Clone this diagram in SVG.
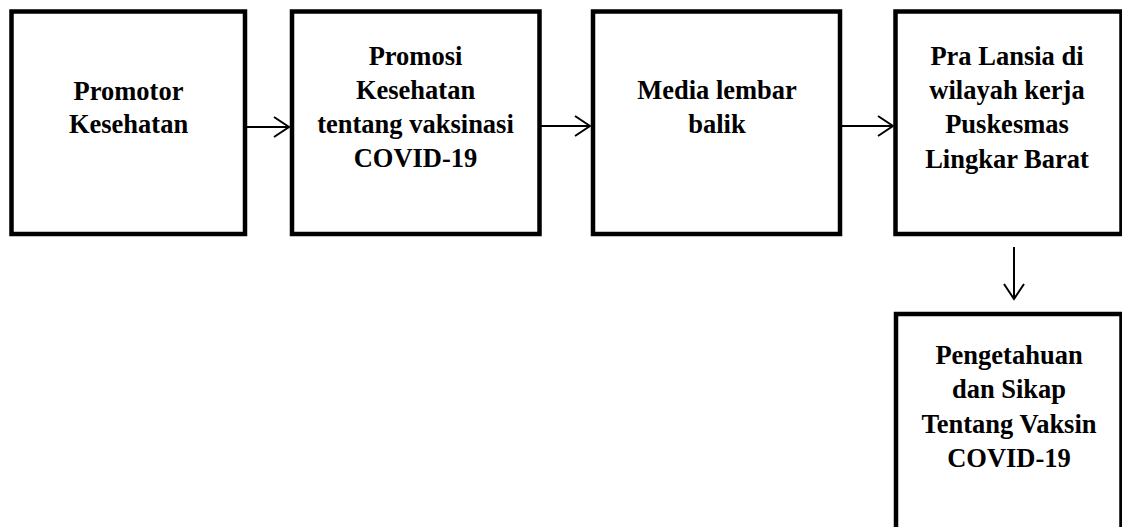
<svg xmlns="http://www.w3.org/2000/svg" width="1122" height="527" viewBox="0 0 1122 527">
<style>
.box{fill:#fff;stroke:#000;stroke-width:4.5;}
.t{font-family:"Liberation Serif","Times New Roman",serif;font-weight:bold;font-size:26.5px;fill:#000;text-anchor:middle;}
.c{stroke:#000;stroke-width:2;fill:none;}
</style>
<defs>
<marker id="ah" markerUnits="userSpaceOnUse" markerWidth="40" markerHeight="40" refX="0" refY="0" viewBox="-20 -20 40 40" orient="auto" overflow="visible">
<path d="M-15,-10 L0,0 L-15,10" fill="none" stroke="#000" stroke-width="2"/>
</marker>
</defs>
<rect width="1122" height="527" fill="#fff"/>
<g id="connectors">
<line class="c" x1="247" y1="127" x2="289" y2="127" marker-end="url(#ah)"/>
<line class="c" x1="541" y1="126" x2="590" y2="126" marker-end="url(#ah)"/>
<line class="c" x1="842" y1="126" x2="893" y2="126" marker-end="url(#ah)"/>
<line class="c" x1="1014" y1="247" x2="1014" y2="299" marker-end="url(#ah)"/>
</g>
<g id="n1">
<rect class="box" x="11.5" y="11.5" width="233.5" height="222.5"/>
<text class="t" x="128.5" y="99.5">Promotor</text>
<text class="t" x="128.5" y="133">Kesehatan</text>
</g>
<g id="n2">
<rect class="box" x="292" y="11.5" width="247.5" height="222.5"/>
<text class="t" x="415.5" y="64.5">Promosi</text>
<text class="t" x="415.5" y="98.5">Kesehatan</text>
<text class="t" x="415.5" y="133">tentang vaksinasi</text>
<text class="t" x="415.5" y="167">COVID-19</text>
</g>
<g id="n3">
<rect class="box" x="593" y="11.5" width="247" height="222.5"/>
<text class="t" x="717" y="99">Media lembar</text>
<text class="t" x="717" y="133">balik</text>
</g>
<g id="n4">
<rect class="box" x="895.5" y="11.5" width="226" height="222.5"/>
<text class="t" x="1007" y="65">Pra Lansia di</text>
<text class="t" x="1007" y="99">wilayah kerja</text>
<text class="t" x="1007" y="133">Puskesmas</text>
<text class="t" x="1007" y="167.5">Lingkar Barat</text>
</g>
<g id="n5">
<rect class="box" x="896" y="314" width="225.5" height="230"/>
<text class="t" x="1009" y="363.5">Pengetahuan</text>
<text class="t" x="1009" y="398">dan Sikap</text>
<text class="t" x="1009" y="432.5">Tentang Vaksin</text>
<text class="t" x="1009" y="467">COVID-19</text>
</g>
</svg>
